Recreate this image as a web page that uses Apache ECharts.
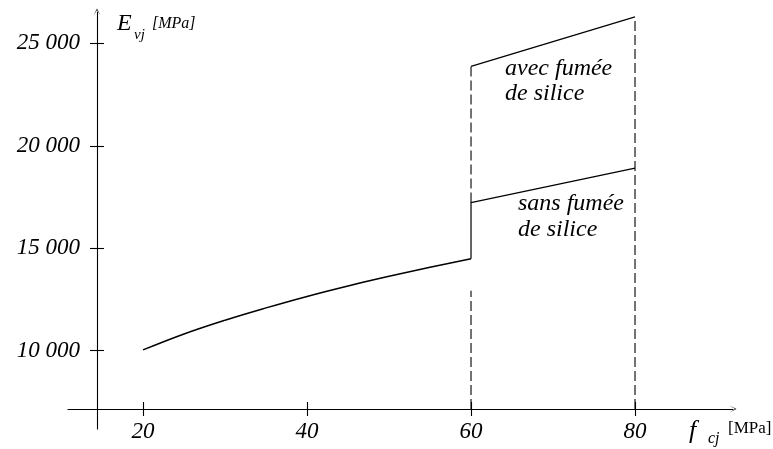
<!DOCTYPE html>
<html><head><meta charset="utf-8">
<script src="https://cdn.jsdelivr.net/npm/echarts@6/dist/echarts.min.js"></script>
<style>html,body{margin:0;padding:0;background:#fff}#c{width:773px;height:449px}</style>
</head><body><div id="c"></div>
<script>
// ---- data ----
const xTicks = [20, 40, 60, 80];
const yTicks = [10000, 15000, 20000, 25000];
const baseX = [20, 25, 30, 35, 40, 45, 50, 55, 60];
const baseY = [10040, 10820, 11490, 12090, 12650, 13160, 13630, 14070, 14490];
const sansX = [60, 60, 80];
const sansY = [14490, 17230, 18910];
const avecX = [60, 80];
const avecY = [23880, 26290];
const guide60LowX = [60, 60];
const guide60LowY = [7150, 12930];
const guide60UpX = [60, 60];
const guide60UpY = [17230, 23880];
const guide80X = [80, 80];
const guide80Y = [7150, 26290];
const labelAvec = ['avec fumée', 'de silice'];
const labelSans = ['sans fumée', 'de silice'];

const zip = (xs, ys) => xs.map((x, i) => [x, ys[i]]);
const SERIF = 'Liberation Serif';
const fmt = v => String(v).replace(/\B(?=(\d{3})+(?!\d))/g, ' ');
const arrow = 'path://M0,10L5,0L10,10L5,2Z';

const X_MIN = 10.85, X_MAX = 91.95, Y_MIN = 6180, Y_MAX = 26530;

const solid = (data, w, smooth) => ({
  type: 'line', data, showSymbol: false, silent: true, animation: false, smooth: smooth || false,
  lineStyle: { color: '#000', width: w || 1.2 }, z: 3
});
const dashed = data => ({
  type: 'line', data, showSymbol: false, silent: true, animation: false,
  lineStyle: { color: '#000', width: 1.1, type: [10, 4] }, z: 2
});
const txt = (left, top, text, font, extra) => ({
  type: 'text', left, top, silent: true,
  style: Object.assign({ text, font, fill: '#000' }, extra || {})
});

const chart = echarts.init(document.getElementById('c'), null, { renderer: 'canvas' });
chart.setOption({
  backgroundColor: '#fff',
  animation: false,
  grid: { left: 68, right: 40, top: 12, bottom: 20, outerBoundsMode: 'none' },
  xAxis: [{
    type: 'value', min: X_MIN, max: X_MAX, offset: -20, position: 'bottom',
    axisLine: { show: true, onZero: false, symbol: ['none', arrow], symbolSize: [7, 12], lineStyle: { color: '#000', width: 1.1 } },
    axisTick: { show: true, length: 7, customValues: xTicks, lineStyle: { color: '#000', width: 1.1 } },
    axisLabel: { show: true, customValues: xTicks, margin: 11, color: '#000', fontFamily: SERIF, fontStyle: 'italic', fontSize: 23 },
    splitLine: { show: false }
  }, {
    type: 'value', min: X_MIN, max: X_MAX, offset: -20, position: 'bottom',
    axisLine: { show: false },
    axisTick: { show: true, inside: true, length: 7, customValues: xTicks, lineStyle: { color: '#000', width: 1.1 } },
    axisLabel: { show: false }, splitLine: { show: false }
  }],
  yAxis: [{
    type: 'value', min: Y_MIN, max: Y_MAX, offset: -29, position: 'left',
    axisLine: { show: true, onZero: false, symbol: ['none', arrow], symbolSize: [7, 12], lineStyle: { color: '#000', width: 1.1 } },
    axisTick: { show: true, length: 7, customValues: yTicks, lineStyle: { color: '#000', width: 1.1 } },
    axisLabel: { show: true, customValues: yTicks, margin: 17, color: '#000', fontFamily: SERIF, fontStyle: 'italic', fontSize: 23, formatter: fmt },
    splitLine: { show: false }
  }, {
    type: 'value', min: Y_MIN, max: Y_MAX, offset: -29, position: 'left',
    axisLine: { show: false },
    axisTick: { show: true, inside: true, length: 7, customValues: yTicks, lineStyle: { color: '#000', width: 1.1 } },
    axisLabel: { show: false }, splitLine: { show: false }
  }],
  series: [
    solid(zip(baseX, baseY), 1.5, 0.4),
    solid(zip(sansX, sansY)),
    solid(zip(avecX, avecY)),
    dashed(zip(guide60LowX, guide60LowY)),
    dashed(zip(guide60UpX, guide60UpY)),
    dashed(zip(guide80X, guide80Y))
  ],
  graphic: [
    txt(117, 12, 'E', 'italic 24px ' + SERIF),
    txt(134, 28, 'vj', 'italic 15px ' + SERIF),
    txt(152, 16, '[MPa]', 'italic 16px ' + SERIF),
    txt(689, 418, 'f', 'italic 26px ' + SERIF),
    txt(708, 431, 'cj', 'italic 16px ' + SERIF),
    txt(728, 420, '[MPa]', '17px ' + SERIF),
    txt(505, 56, labelAvec.join('\n'), 'italic 24px ' + SERIF, { lineHeight: 25 }),
    txt(518, 191, labelSans.join('\n'), 'italic 24px ' + SERIF, { lineHeight: 26 })
  ]
});
</script></body></html>
